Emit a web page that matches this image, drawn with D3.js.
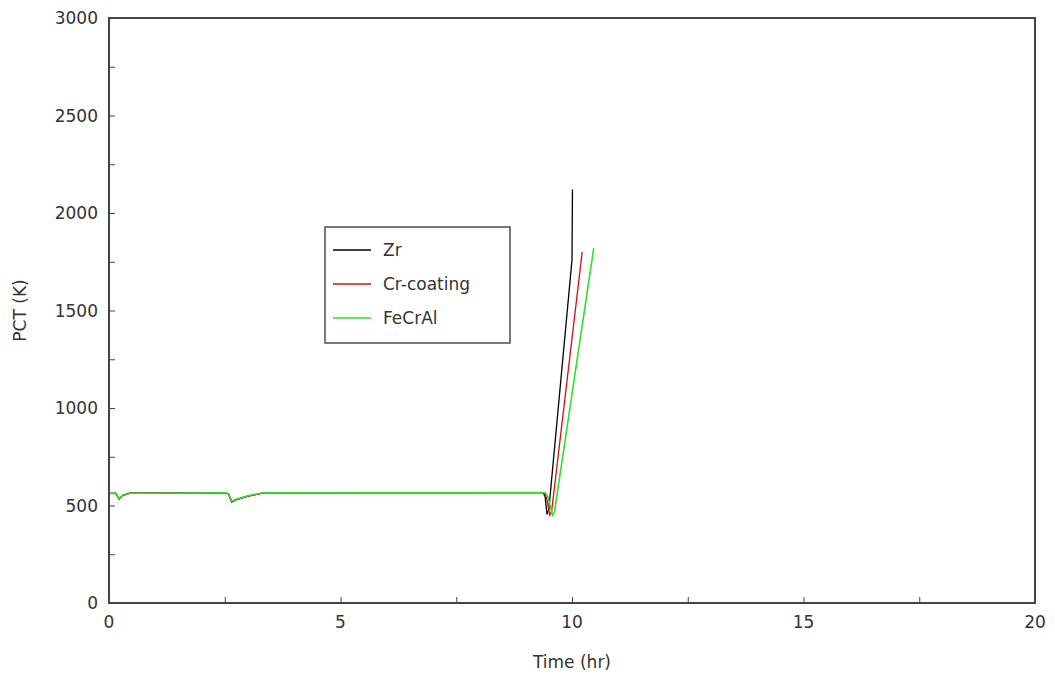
<!DOCTYPE html>
<html>
<head>
<meta charset="utf-8">
<script src="https://cdn.jsdelivr.net/npm/d3@7"></script>
<style>
body { margin: 0; background: #fff; }
text { font-family: "DejaVu Sans", sans-serif; fill: #333; }
</style>
</head>
<body>
<div class="chart"></div>
<script>
// data: [time (hr), PCT (K)]
var zrData = [[0,562],[0.15,562],[0.22,533],[0.3,552],[0.45,563],[2.5,565],[2.58,560],[2.65,518],[2.75,530],[3.0,548],[3.35,565],[9.38,566],[9.42,545],[9.46,455],[9.5,480],[10.0,1760],[10.01,2120]];
var crData = [[0,562],[0.15,562],[0.22,533],[0.3,552],[0.45,563],[2.5,565],[2.58,560],[2.65,520],[2.75,530],[3.0,548],[3.35,565],[9.4,566],[9.45,540],[9.52,450],[9.56,470],[10.22,1800]];
var feData = [[0,562],[0.15,562],[0.22,535],[0.3,552],[0.45,563],[2.5,565],[2.58,560],[2.65,522],[2.75,532],[3.0,550],[3.35,565],[9.42,566],[9.48,545],[9.58,450],[9.62,465],[10.47,1820]];
var seriesNames = ["Zr", "Cr-coating", "FeCrAl"];
var seriesColors = ["#000000", "#d01010", "#30dd30"];
var xTicks = [0, 5, 10, 15, 20];
var yTicks = [0, 500, 1000, 1500, 2000, 2500, 3000];

var W = 1055, H = 681;
var margin = {left: 109, top: 18, right: 20, bottom: 78};

var svg = d3.select(".chart").append("svg")
    .attr("width", W)
    .attr("height", H);

var x = d3.scaleLinear().domain([0, 20]).range([margin.left, W - margin.right]);
var y = d3.scaleLinear().domain([0, 3000]).range([H - margin.bottom, margin.top]);

// minor inward ticks
var xMinor = d3.range(0, 20.01, 2.5);
var yMinor = d3.range(0, 3001, 250);

var bottomAxis = d3.axisTop(x).tickValues(xMinor).tickSize(6).tickFormat("");
svg.append("g").attr("transform", "translate(0," + y(0) + ")").call(bottomAxis)
    .call(function(g) { g.select(".domain").remove(); g.selectAll("line").attr("stroke", "#444"); });

var leftAxis = d3.axisRight(y).tickValues(yMinor).tickSize(6).tickFormat("");
svg.append("g").attr("transform", "translate(" + x(0) + ",0)").call(leftAxis)
    .call(function(g) { g.select(".domain").remove(); g.selectAll("line").attr("stroke", "#444"); });

// labels
svg.append("g").selectAll("text").data(xTicks).enter().append("text")
    .attr("x", function(d) { return x(d); })
    .attr("y", y(0) + 25)
    .attr("text-anchor", "middle")
    .attr("font-size", 17)
    .text(function(d) { return d; });

svg.append("g").selectAll("text").data(yTicks).enter().append("text")
    .attr("x", x(0) - 11)
    .attr("y", function(d) { return y(d) + 6; })
    .attr("text-anchor", "end")
    .attr("font-size", 17)
    .text(function(d) { return d; });

svg.append("text")
    .attr("x", x(10))
    .attr("y", 668)
    .attr("text-anchor", "middle")
    .attr("font-size", 17)
    .text("Time (hr)");

svg.append("text")
    .attr("transform", "translate(26," + y(1500) + ") rotate(-90)")
    .attr("text-anchor", "middle")
    .attr("font-size", 17)
    .text("PCT (K)");

// lines
var line = d3.line()
    .x(function(d) { return x(d[0]); })
    .y(function(d) { return y(d[1]); });

var allData = [zrData, crData, feData];
allData.forEach(function(data, i) {
    svg.append("path")
        .attr("d", line(data))
        .attr("fill", "none")
        .attr("stroke", seriesColors[i])
        .attr("stroke-width", i == 2 ? 1.6 : 1.3);
});

// frame
svg.append("rect")
    .attr("x", x(0)).attr("y", y(3000))
    .attr("width", x(20) - x(0)).attr("height", y(0) - y(3000))
    .attr("fill", "none")
    .attr("stroke", "#444")
    .attr("stroke-width", 2);

// legend
var legend = svg.append("g").attr("transform", "translate(325,227)");
legend.append("rect")
    .attr("width", 185).attr("height", 116)
    .attr("fill", "#fff")
    .attr("stroke", "#333")
    .attr("stroke-width", 1.3);

var rows = legend.selectAll("g.row").data(seriesNames).enter().append("g")
    .attr("class", "row")
    .attr("transform", function(d, i) { return "translate(0," + (23 + i * 34) + ")"; });
rows.append("line")
    .attr("x1", 8).attr("x2", 46)
    .attr("stroke", function(d, i) { return seriesColors[i]; })
    .attr("stroke-width", 1.3);
rows.append("text")
    .attr("x", 58).attr("y", 6)
    .attr("font-size", 17)
    .text(function(d) { return d; });
</script>
</body>
</html>
